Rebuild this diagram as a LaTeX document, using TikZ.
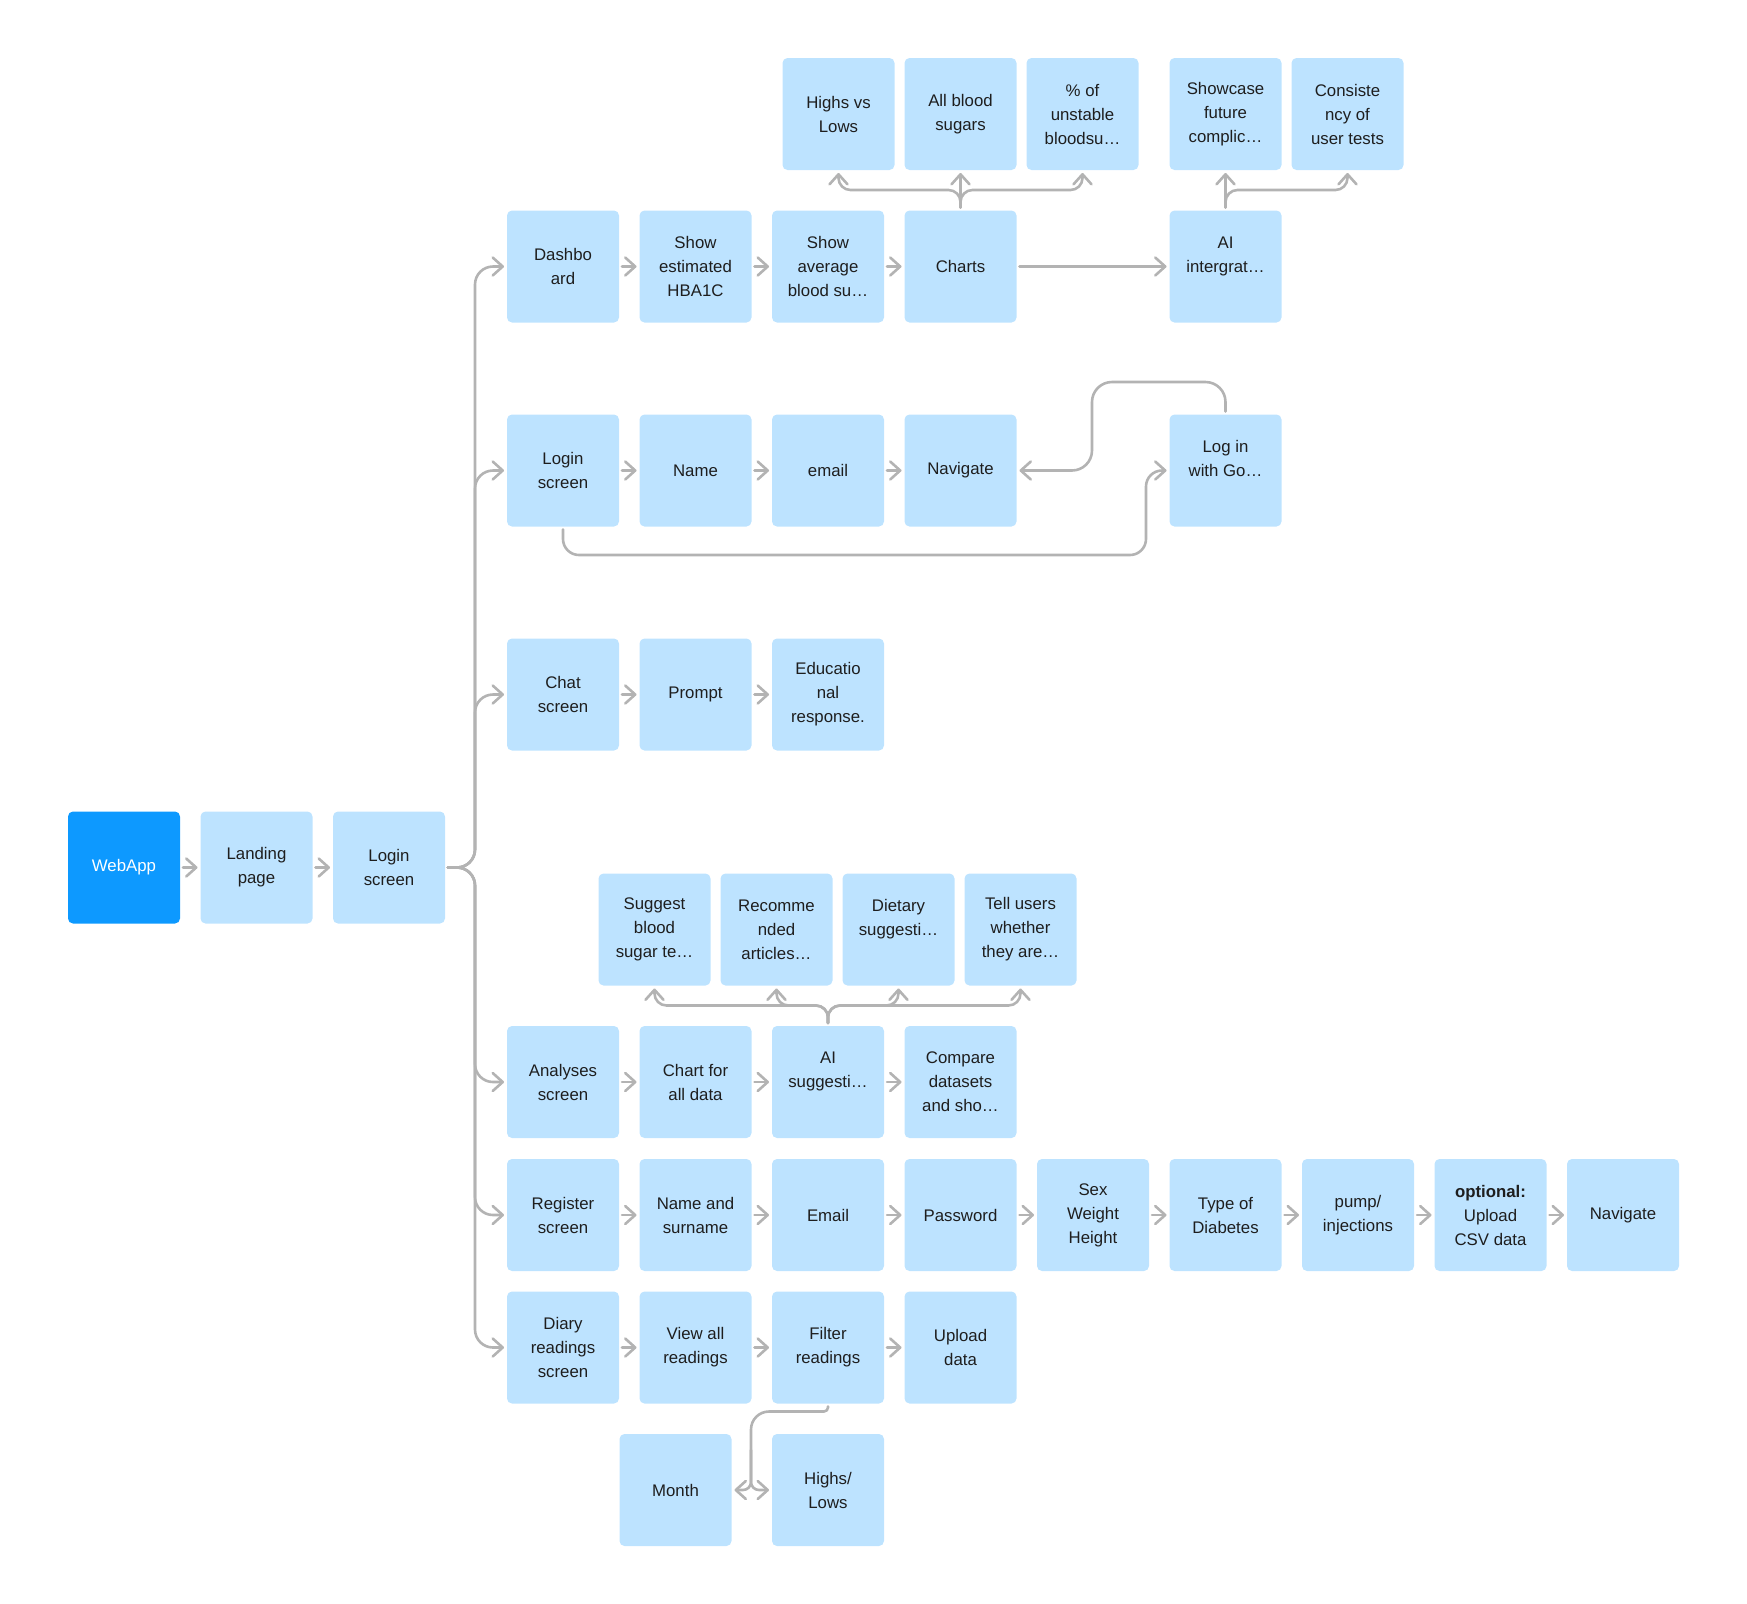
\documentclass[tikz,border=0pt]{standalone}
\usepackage{fontspec}
\setmainfont{Liberation Sans}
\usetikzlibrary{arrows.meta,calc}
\definecolor{boxblue}{HTML}{BDE3FF}
\definecolor{appblue}{HTML}{0D99FF}
\definecolor{inkdark}{HTML}{1E1E1E}
\definecolor{wiregray}{HTML}{B3B3B3}
\tikzset{
  card/.style={rectangle, rounded corners=2.5pt, fill=boxblue, minimum width=56pt,
    minimum height=56pt, inner sep=0pt, outer sep=1.5pt, align=center, text=inkdark,
    font=\fontsize{8.4pt}{12pt}\selectfont},
  appcard/.style={card, fill=appblue, text=white},
  wire/.style={draw=wiregray, line width=1.3pt, line cap=round, line join=round,
    -{Straight Barb[length=5pt,width=9pt,round]}},
}
\begin{document}
\begin{tikzpicture}[x=0.5pt, y=-0.5pt]
\useasboundingbox (0,0) rectangle (1747,1603);

% entry row
\node[appcard] (webapp)  at (124,867.5)   {WebApp};
\node[card]    (landing) at (256.5,867.5) {Landing\\page};
\node[card]    (login)   at (389,867.5)   {Login\\screen};

% chart details
\node[card] (highs)    at (838.5,114)  {Highs vs\\Lows};
\node[card] (allblood) at (960.5,114)  {All blood\\sugars};
\node[card] (pct)      at (1082.5,114) {\% of\\unstable\\bloodsu…};
\node[card] (showcase) at (1225.5,114) {Showcase\\future\\complic…};
\node[card] (consist)  at (1347.5,114) {Consiste\\ncy of\\user tests};

% dashboard row
\node[card] (dash)   at (563,266.5)    {Dashbo\\ard};
\node[card] (hba)    at (695.5,266.5)  {Show\\estimated\\HBA1C};
\node[card] (avg)    at (828,266.5)    {Show\\average\\blood su…};
\node[card] (charts) at (960.5,266.5)  {Charts};
\node[card] (ai)     at (1225.5,266.5) {AI\\intergrat…\\~};

% login row
\node[card] (ls)    at (563,470.5)    {Login\\screen};
\node[card] (name)  at (695.5,470.5)  {Name};
\node[card] (email) at (828,470.5)    {email};
\node[card] (nav)   at (960.5,470.5)  {Navigate};
\node[card] (gl)    at (1225.5,470.5) {Log in\\with Go…\\~};

% chat row
\node[card] (chat)   at (563,694.5)   {Chat\\screen};
\node[card] (prompt) at (695.5,694.5) {Prompt};
\node[card] (edu)    at (828,694.5)   {Educatio\\nal\\response.};

% suggestion details
\node[card] (s1) at (654.5,929.5)  {Suggest\\blood\\sugar te…};
\node[card] (s2) at (776.5,929.5)  {Recomme\\nded\\articles…};
\node[card] (s3) at (898.5,929.5)  {Dietary\\suggesti…\\~};
\node[card] (s4) at (1020.5,929.5) {Tell users\\whether\\they are…};

% analyses row
\node[card] (an)      at (563,1082)   {Analyses\\screen};
\node[card] (chartall) at (695.5,1082) {Chart for\\all data};
\node[card] (aisug)   at (828,1082)   {AI\\suggesti…\\~};
\node[card] (compare) at (960.5,1082) {Compare\\datasets\\and sho…};

% register row
\node[card] (reg)   at (563,1215)    {Register\\screen};
\node[card] (rname) at (695.5,1215)  {Name and\\surname};
\node[card] (remail) at (828,1215)   {Email};
\node[card] (pwd)   at (960.5,1215)  {Password};
\node[card] (sex)   at (1093,1215)   {Sex\\Weight\\Height};
\node[card] (dtype) at (1225.5,1215) {Type of\\Diabetes};
\node[card] (pump)  at (1358,1215)   {pump/\\injections};
\node[card] (csv)   at (1490.5,1215) {\textbf{optional:}\\Upload\\CSV data};
\node[card] (rnav)  at (1623,1215)   {Navigate};

% diary row
\node[card] (diary)  at (563,1347.5)   {Diary\\readings\\screen};
\node[card] (viewall) at (695.5,1347.5) {View all\\readings};
\node[card] (filter) at (828,1347.5)   {Filter\\readings};
\node[card] (upload) at (960.5,1347.5) {Upload\\data};

% filter options
\node[card] (month)  at (675.5,1490) {Month};
\node[card] (hilo)   at (828,1490)   {Highs/\\Lows};

% helper points for the bends
\coordinate (trunk)   at (475,867.5);
\coordinate (topfan)  at (960.5,190);
\coordinate (sugfan)  at (828,1005.5);
\coordinate (glbend)  at (1092,382);
\coordinate (lsloop)  at (1146,555);
\coordinate (fh)      at (790,1411.5);
\coordinate (fsplit)  at (751,1411.5);
\coordinate (fmid)    at (751,1450);

% entry chain
\draw[wire] (webapp.east) -- (landing.west);
\draw[wire] (landing.east) -- (login.west);

% branches off the login screen
\foreach \t in {dash,ls,chat,an,reg,diary}
  \draw[wire, rounded corners=9pt] (login.east) -- (trunk) |- (\t.west);

% dashboard chain
\draw[wire] (dash.east) -- (hba.west);
\draw[wire] (hba.east) -- (avg.west);
\draw[wire] (avg.east) -- (charts.west);
\draw[wire] (charts.east) -- (ai.west);
\draw[wire] (charts.north) -- (allblood.south);
\draw[wire, rounded corners=6pt] (charts.north) |- (topfan -| highs.south) -- (highs.south);
\draw[wire, rounded corners=6pt] (charts.north) |- (topfan -| pct.south) -- (pct.south);
\draw[wire] (ai.north) -- (showcase.south);
\draw[wire, rounded corners=6pt] (ai.north) |- (topfan -| consist.south) -- (consist.south);

% login chain
\draw[wire] (ls.east) -- (name.west);
\draw[wire] (name.east) -- (email.west);
\draw[wire] (email.east) -- (nav.west);
\draw[wire, rounded corners=10pt] (gl.north) |- (glbend) |- (nav.east);
\draw[wire, rounded corners=8pt] (ls.south) |- (lsloop) |- (gl.west);

% chat chain
\draw[wire] (chat.east) -- (prompt.west);
\draw[wire] (prompt.east) -- (edu.west);

% analyses chain
\draw[wire] (an.east) -- (chartall.west);
\draw[wire] (chartall.east) -- (aisug.west);
\draw[wire] (aisug.east) -- (compare.west);
\foreach \s in {s1,s2,s3,s4}
  \draw[wire, rounded corners=6pt] (aisug.north) |- (sugfan -| \s.south) -- (\s.south);

% register chain
\draw[wire] (reg.east) -- (rname.west);
\draw[wire] (rname.east) -- (remail.west);
\draw[wire] (remail.east) -- (pwd.west);
\draw[wire] (pwd.east) -- (sex.west);
\draw[wire] (sex.east) -- (dtype.west);
\draw[wire] (dtype.east) -- (pump.west);
\draw[wire] (pump.east) -- (csv.west);
\draw[wire] (csv.east) -- (rnav.west);

% diary chain
\draw[wire] (diary.east) -- (viewall.west);
\draw[wire] (viewall.east) -- (filter.west);
\draw[wire] (filter.east) -- (upload.west);
\draw[wire] (filter.south) [rounded corners=2pt] |- (fh) [rounded corners=9pt] -- (fsplit) -- (fmid) [rounded corners=4pt] |- (month.east);
\draw[wire, rounded corners=4pt] (fmid) |- (hilo.west);
\end{tikzpicture}
\end{document}
